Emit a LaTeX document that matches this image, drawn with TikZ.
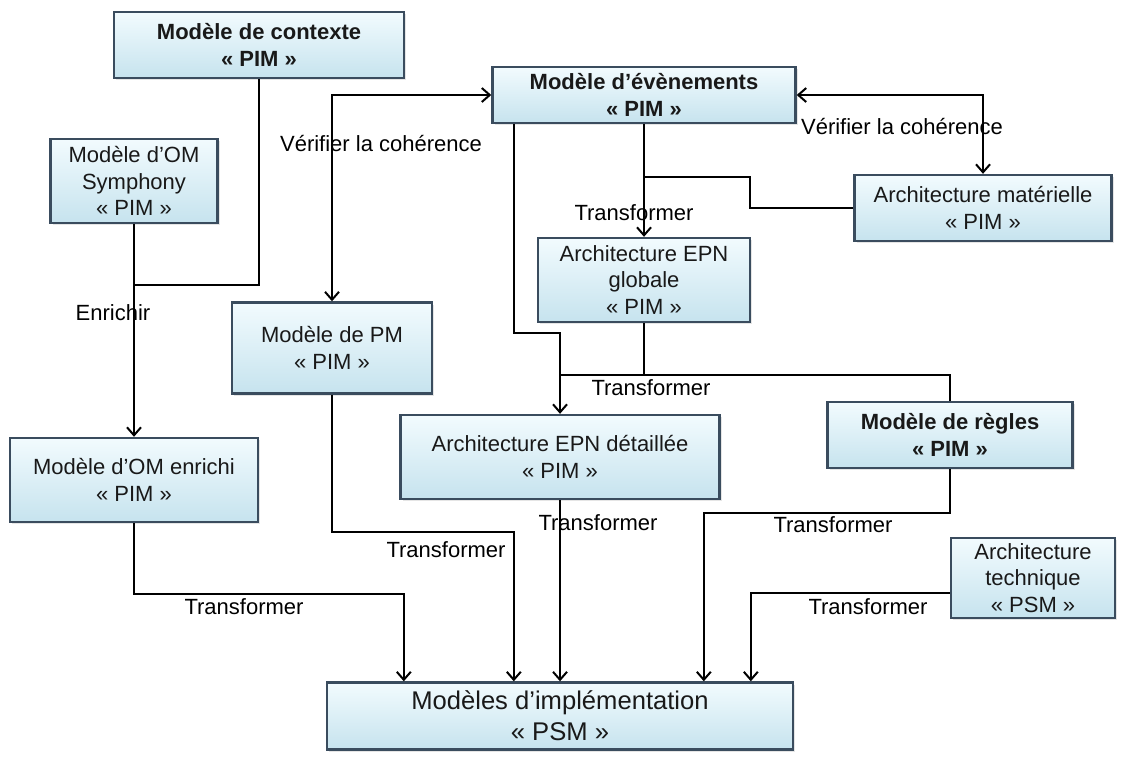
\documentclass[tikz,border=0pt]{standalone}
\usepackage{fontspec}
\setmainfont{Liberation Sans}
\usepackage{tikz}
\usetikzlibrary{arrows.meta,positioning,calc,shadows}
\definecolor{boxedge}{RGB}{58,76,94}
\definecolor{boxtop}{RGB}{242,251,254}
\definecolor{boxbot}{RGB}{198,227,238}
\definecolor{inktext}{RGB}{25,25,25}
\tikzset{
  base/.style={font=\fontsize{11}{13.2}\selectfont, align=center, inner sep=2pt, text=inktext},
  box/.style={base, rectangle, draw=boxedge, line width=1.2pt, top color=boxtop, bottom color=boxbot,
    drop shadow={shadow xshift=1.2pt, shadow yshift=-1.2pt, opacity=0.2}},
  boxb/.style={box, font=\fontsize{11}{13.2}\selectfont\bfseries},
  big/.style={box, font=\fontsize{12.8}{15.5}\selectfont},
  lbl/.style={base, inner sep=1pt, text=black},
  wire/.style={line width=1pt, draw=black},
  arr/.style={wire, -{Straight Barb[length=4pt,width=7pt]}},
  arr2/.style={wire, {Straight Barb[length=4pt,width=7pt]}-{Straight Barb[length=4pt,width=7pt]}},
}

\begin{document}
\begin{tikzpicture}[x=0.5pt,y=-0.5pt]
  \fill[white] (0,0) rectangle (1128,762);
  \useasboundingbox (0,0) rectangle (1128,762);
  % PIM models
  \node[boxb,minimum width=145pt,minimum height=33pt] (ctx) at (259,45) {Modèle de contexte\\« PIM »};
  \node[box,minimum width=83.5pt,minimum height=42pt] (om) at (134,181) {Modèle d’OM\\Symphony\\« PIM »};
  \node[boxb,minimum width=151.5pt,minimum height=28pt] (evt) at (644,95) {Modèle d’évènements\\« PIM »};
  \node[box,minimum width=128.5pt,minimum height=33pt] (hw) at (983,208) {Architecture matérielle\\« PIM »};
  \node[box,minimum width=106pt,minimum height=42pt] (epng) at (644,280) {Architecture EPN\\globale\\« PIM »};
  \node[box,minimum width=100pt,minimum height=45.5pt] (pm) at (332,348) {Modèle de PM\\« PIM »};
  \node[box,minimum width=124pt,minimum height=42pt] (omr) at (134,480) {Modèle d’OM enrichi\\« PIM »};
  \node[box,minimum width=159.5pt,minimum height=42pt] (epnd) at (560,457) {Architecture EPN détaillée\\« PIM »};
  \node[boxb,minimum width=122.5pt,minimum height=33pt] (regles) at (950,435) {Modèle de règles\\« PIM »};
  % PSM models
  \node[box,minimum width=82pt,minimum height=40pt] (tech) at (1033,578) {Architecture\\technique\\« PSM »};
  \node[big,minimum width=233pt,minimum height=33.5pt] (psm) at (560,716) {Modèles d’implémentation\\« PSM »};
  % enrichment
  \coordinate (jctx) at (134,285);
  \draw[wire] (ctx.south) |- (jctx);
  \draw[arr] (om.south) -- (omr.north);
  \node[lbl] (lenr) at (113,313) {Enrichir};
  % coherence checks
  \draw[arr2] (pm.north) |- (evt.west);
  \draw[arr2] (evt.east) -| (hw.north);
  \node[lbl] (lver1) at (381,143) {Vérifier la cohérence};
  \node[lbl] (lver2) at (902,126) {Vérifier la cohérence};
  % EPN architectures
  \coordinate (jhw) at (644,177);
  \coordinate (jepn) at (560,375);
  \draw[arr] (evt.south) -- (epng.north);
  \draw[wire] (hw.west) -- ++(-103,0) |- (jhw);
  \draw[arr] ($(evt.south west)+(23,0)$) -- ++(0,209) -| (epnd.north);
  \draw[wire] (epng.south) -- (epng.south |- jepn);
  \draw[wire] (regles.north) |- (jepn);
  % towards implementation
  \draw[arr] (omr.south) -- ++(0,71) -| ($(psm.north west)+(78,0)$);
  \draw[arr] (pm.south) -- ++(0,137) -| ($(psm.north west)+(188,0)$);
  \draw[arr] (epnd.south) -- (psm.north);
  \draw[arr] (regles.south) -- ++(0,44) -| ($(psm.north west)+(378,0)$);
  \draw[arr] ($(tech.west)+(0,15)$) -| ($(psm.north west)+(425,0)$);
  \foreach \n/\x/\y in {ltra/634/213,ltrb/651/388,ltrc/598/523,ltrd/446/550,ltre/244/607,ltrf/833/525,ltrg/868/607}{
    \node[lbl] (\n) at (\x,\y) {Transformer};}
\end{tikzpicture}
\end{document}
